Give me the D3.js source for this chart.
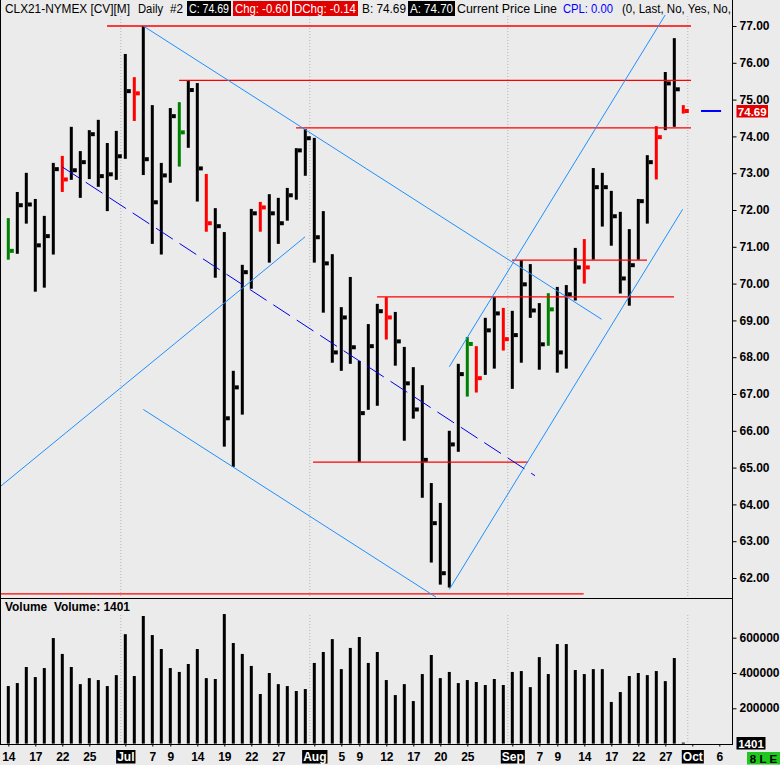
<!DOCTYPE html>
<html>
<head>
<meta charset="utf-8">
<script src="https://cdn.jsdelivr.net/npm/d3@7"></script>
<style>
  body { margin: 0; background: #ebebeb; }
  text { font-family: "Liberation Sans", Arial, sans-serif; }
</style>
</head>
<body>
<script>
// daily bars, index 0 = Jun 14
const highs = [71.78, 72.49, 73.01, 72.30, 71.84, 73.28, 73.47, 74.26, 73.60, 74.17,
  74.45, 73.82, 74.15, 76.24, 75.61, 77.00, 74.85, 73.28, 74.77, 74.93,
  75.51, 75.45, 72.98, 72.05, 71.40, 67.63, 70.51, 72.03, 72.22, 72.43,
  72.33, 72.60, 73.68, 74.20, 73.96, 71.97, 70.80, 69.36, 70.18, 67.90,
  68.90, 69.45, 69.63, 69.23, 68.28, 67.73, 67.24, 64.58, 64.04, 66.00,
  67.82, 68.55, 68.30, 69.07, 69.63, 69.34, 69.26, 70.64, 70.53, 69.47,
  69.74, 69.91, 69.96, 70.97, 71.21, 73.14, 73.01, 72.52, 71.95, 71.48,
  72.30, 73.49, 74.28, 75.75, 76.67, 74.85];
const lows = [70.65, 70.81, 71.63, 69.78, 69.89, 70.79, 72.49, 72.82, 72.33, 72.84,
  72.63, 71.97, 72.82, 73.39, 74.42, 72.95, 71.08, 70.79, 72.74, 73.18,
  73.69, 72.23, 71.41, 70.16, 65.57, 65.02, 66.44, 69.86, 71.41, 70.57,
  71.08, 71.71, 72.28, 72.93, 70.57, 69.21, 67.85, 67.63, 67.82, 65.16,
  66.57, 66.68, 68.48, 67.77, 65.73, 66.33, 64.18, 62.42, 61.82, 61.74,
  65.43, 66.93, 67.04, 67.52, 67.69, 68.18, 67.14, 67.85, 69.07, 67.66,
  68.31, 67.58, 67.69, 69.54, 70.00, 70.65, 71.55, 71.03, 69.73, 69.40,
  70.65, 71.63, 72.83, 74.17, 74.26, 74.62];
const closes = [70.89, 72.13, 72.15, 71.04, 71.29, 73.11, 72.83, 73.08, 73.30, 74.06,
  72.92, 72.97, 73.46, 75.23, 75.17, 73.38, 72.21, 72.94, 74.55, 74.11,
  75.26, 73.13, 71.64, 71.56, 66.34, 67.18, 70.31, 71.91, 72.07, 71.91,
  71.64, 72.40, 73.62, 73.95, 71.26, 70.55, 68.13, 69.08, 68.27, 66.48,
  68.30, 69.25, 69.08, 68.43, 67.29, 66.58, 65.21, 63.49, 62.13, 65.63,
  67.54, 68.36, 67.43, 68.73, 69.19, 68.49, 68.60, 69.98, 69.27, 68.35,
  69.30, 68.13, 69.71, 70.44, 70.44, 72.62, 72.62, 71.83, 70.14, 70.50,
  72.24, 73.30, 73.98, 75.44, 75.28, 74.69];
const greenBars = [0, 19, 51, 60];
const redBars = [6, 14, 22, 28, 42, 52, 55, 64, 72, 75];

const volumes = [326000, 343000, 434000, 377000, 428000, 598000, 508000, 434000, 337000, 371000,
  360000, 326000, 388000, 620000, 383000, 723000, 615000, 536000, 428000, 406000,
  451000, 536000, 371000, 366000, 734000, 570000, 508000, 440000, 281000, 400000,
  337000, 326000, 298000, 309000, 457000, 519000, 592000, 422000, 542000, 604000,
  457000, 519000, 360000, 275000, 337000, 241000, 394000, 502000, 371000, 406000,
  343000, 360000, 349000, 332000, 366000, 332000, 406000, 411000, 320000, 490000,
  394000, 564000, 564000, 417000, 394000, 422000, 422000, 236000, 292000, 383000,
  400000, 388000, 411000, 354000, 485000, 1401];

const priceTicks = [62, 63, 64, 65, 66, 67, 68, 69, 70, 71, 72, 73, 74, 75, 76, 77];
const volumeTicks = [200000, 400000, 600000];
const dayTickIdx = [0, 3, 6, 9, 13, 16, 18, 21, 24, 27, 30, 34, 37, 39, 42, 45, 48, 51, 56, 59, 61, 64, 67, 70, 73, 76, 79];
const dayTickLabels = ["14", "17", "22", "25", "Jul", "7", "9", "14", "19", "22", "27", "Aug", "5", "9", "12", "17", "20", "25", "Sep", "7", "9", "14", "17", "22", "27", "Oct", "6"];
const monthLabels = ["Jul", "Aug", "Sep", "Oct"];
const monthBreaks = [12.5, 33.5, 55.5, 75.5];

// drawing objects: [bar1, price1, bar2, price2]
const channelLines = [
  [15.0, 77.00, 65.93, 69.03],
  [-0.92, 64.48, 32.97, 71.27],
  [15.0, 66.58, 47.52, 61.48],
  [49.0, 67.74, 72.99, 77.30],
  [49.0, 61.69, 74.93, 72.02]
];
const dashedLine = [6.0, 73.17, 58.52, 64.78];
// red levels: [price, from bar, to bar]
const levels = [
  [77.00, 10.97, 75.86],
  [75.52, 18.97, 75.86],
  [74.23, 31.97, 75.86],
  [69.64, 40.97, 73.97],
  [70.64, 55.97, 70.97],
  [65.15, 33.86, 57.74],
  [61.57, -0.92, 63.93]
];
const lastPrice = 74.69;

const axisX = 732.5;
const priceBottom = 598.5, volBottom = 744.5;

const x = d3.scaleLinear().domain([0, 74]).range([8.3, 674.3]);
const yP = d3.scaleLinear().domain([62, 77]).range([578, 26]);
const yV = d3.scaleLinear().domain([0, 600000]).range([743.6, 637.7]);

const svg = d3.select("body").append("svg")
    .attr("width", 780)
    .attr("height", 765);

svg.append("rect").attr("width", 780).attr("height", 765).attr("fill", "#ebebeb");

const defs = svg.append("defs");
defs.append("clipPath").attr("id", "pclip")
  .append("rect").attr("x", 1).attr("y", 0).attr("width", axisX - 1).attr("height", priceBottom);

// month grid lines
monthBreaks.forEach(m => {
    [[16, priceBottom], [615, volBottom]].forEach(([a, b]) => {
        svg.append("line")
            .attr("x1", x(m)).attr("x2", x(m))
            .attr("y1", a).attr("y2", b)
            .attr("stroke", "#b4b4b4")
            .attr("stroke-dasharray", "1,2");
    });
});

// price bars
const price = svg.append("g").attr("clip-path", "url(#pclip)");
const barColor = i => greenBars.includes(i) ? "#008000" : redBars.includes(i) ? "#ff0000" : "#000";

highs.forEach((h, i) => {
    const cx = x(i);
    price.append("rect")
        .attr("x", cx - 1.5).attr("width", 3)
        .attr("y", yP(h)).attr("height", Math.max(1, yP(lows[i]) - yP(h)))
        .attr("fill", barColor(i));
    price.append("rect")
        .attr("x", cx + 1.5).attr("width", 4)
        .attr("y", yP(closes[i]) - 2).attr("height", 4)
        .attr("fill", barColor(i));
});

// red support / resistance lines
levels.forEach(([p, a, b]) => {
    price.append("line")
        .attr("x1", x(a)).attr("x2", x(b))
        .attr("y1", yP(p)).attr("y2", yP(p))
        .attr("stroke", "#ff0000")
        .attr("stroke-width", 1.3);
});

// trend channels
channelLines.forEach(([a, p1, b, p2]) => {
    price.append("line")
        .attr("x1", x(a)).attr("y1", yP(p1))
        .attr("x2", x(b)).attr("y2", yP(p2))
        .attr("stroke", "#1e90ff")
        .attr("stroke-width", 1);
});
price.append("line")
    .attr("x1", x(dashedLine[0])).attr("y1", yP(dashedLine[1]))
    .attr("x2", x(dashedLine[2])).attr("y2", yP(dashedLine[3]))
    .attr("stroke", "#0000e6")
    .attr("stroke-dasharray", "20,8");

// current price line
svg.append("line")
    .attr("x1", x(76.97)).attr("x2", x(79.2))
    .attr("y1", yP(lastPrice)).attr("y2", yP(lastPrice))
    .attr("stroke", "#0000ff")
    .attr("stroke-width", 2);

// volume bars
volumes.forEach((v, i) => {
    svg.append("rect")
        .attr("x", x(i) - 1.5).attr("width", 3)
        .attr("y", Math.min(yV(v), yV(0) - 1))
        .attr("height", Math.max(1, yV(0) - yV(v)))
        .attr("fill", "#000");
});

// frames
svg.append("line").attr("x1", axisX).attr("x2", axisX).attr("y1", 0).attr("y2", volBottom + 0.5)
    .attr("stroke", "#000");
svg.append("line").attr("x1", 0.5).attr("x2", 0.5).attr("y1", 0).attr("y2", volBottom)
    .attr("stroke", "#000");
[priceBottom, volBottom].forEach(yy => {
    svg.append("line").attr("x1", 0).attr("x2", axisX).attr("y1", yy).attr("y2", yy)
        .attr("stroke", "#000");
});

// right axes
function styleAxis(g) {
    g.select(".domain").remove();
    g.selectAll("text")
        .attr("dy", "0.3em")
        .attr("font-size", 12)
        .attr("font-weight", "bold")
        .attr("fill", "#000")
        .style("font-family", '"Liberation Sans", Arial, sans-serif');
}
svg.append("g")
    .attr("transform", `translate(${axisX},0)`)
    .call(d3.axisRight(yP).tickValues(priceTicks).tickFormat(d3.format(".2f")).tickSize(4).tickPadding(3))
    .call(styleAxis);
svg.append("g")
    .attr("transform", `translate(${axisX},0)`)
    .call(d3.axisRight(yV).tickValues(volumeTicks).tickFormat(d => d).tickSize(4).tickPadding(3))
    .call(styleAxis);

// value tags on the right
function tag(txt, x0, x1, yc, bg, fg) {
    svg.append("rect").attr("x", x0).attr("y", yc - 6).attr("width", x1 - x0).attr("height", 12.5)
        .attr("fill", bg);
    svg.append("text").attr("x", (x0 + x1) / 2).attr("y", yc + 5.1)
        .attr("text-anchor", "middle")
        .attr("font-size", 11.5).attr("font-weight", "bold")
        .attr("fill", fg).text(txt);
}
tag(d3.format(".2f")(lastPrice), 736.5, 768, yP(lastPrice), "#e00000", "#fff");
tag("1401", 736.5, 765.5, 743, "#000", "#fff");
tag("8 L E", 747, 780, 758, "#1ec81e", "#000");

// date axis
const xa = svg.append("g")
    .attr("transform", `translate(0,${volBottom})`)
    .call(d3.axisBottom(x).tickValues(dayTickIdx)
        .tickFormat((d, i) => dayTickLabels[i]).tickSize(2));
xa.select(".domain").remove();
xa.selectAll("text")
    .attr("y", 16.8).attr("dy", 0)
    .attr("font-size", 12)
    .attr("font-weight", "bold")
    .style("font-family", '"Liberation Sans", Arial, sans-serif')
    .attr("fill", d => monthLabels.includes(dayTickLabels[dayTickIdx.indexOf(d)]) ? "#fff" : "#000")
    .each(function(d) {
        if (!monthLabels.includes(dayTickLabels[dayTickIdx.indexOf(d)])) return;
        const bb = this.getBBox();
        d3.select(this.parentNode).insert("rect", "text")
            .attr("x", bb.x - 1).attr("y", 5.5)
            .attr("width", bb.width + 2).attr("height", 13.5)
            .attr("fill", "#000");
    });

// header
const header = [
    { t: "CLX21-NYMEX [CV][M]", x0: 5, x1: 130 },
    { t: "Daily", x0: 138, x1: 163 },
    { t: "#2", x0: 170, x1: 183 },
    { t: "C: 74.69", x0: 187, x1: 231, c: "#fff", bg: "#000" },
    { t: "Chg: -0.60", x0: 233, x1: 290, c: "#fff", bg: "#e00000" },
    { t: "DChg: -0.14", x0: 292, x1: 358, c: "#fff", bg: "#e00000" },
    { t: "B: 74.69", x0: 362, x1: 406 },
    { t: "A: 74.70", x0: 408, x1: 455, c: "#fff", bg: "#000" },
    { t: "Current Price Line", x0: 457, x1: 557 },
    { t: "CPL: 0.00", x0: 563, x1: 613, c: "#0000ff" },
    { t: "(0, Last, No, Yes, No,", x0: 622, x1: 731 }
];
header.forEach(h => {
    let tx0 = h.x0, tx1 = h.x1;
    if (h.bg) {
        svg.append("rect").attr("x", h.x0).attr("y", 1).attr("width", h.x1 - h.x0).attr("height", 15)
            .attr("fill", h.bg);
        tx0 += 2; tx1 -= 2;
    }
    svg.append("text")
        .attr("x", tx0).attr("y", 12.5)
        .attr("font-size", 12)
        .attr("fill", h.c || "#000")
        .attr("textLength", tx1 - tx0)
        .attr("lengthAdjust", "spacingAndGlyphs")
        .text(h.t);
});

svg.append("text")
    .attr("x", 5).attr("y", 611)
    .attr("font-size", 12)
    .attr("font-weight", "bold")
    .attr("textLength", 125)
    .attr("lengthAdjust", "spacingAndGlyphs")
    .text("Volume\u00a0 Volume: 1401");
</script>
</body>
</html>
